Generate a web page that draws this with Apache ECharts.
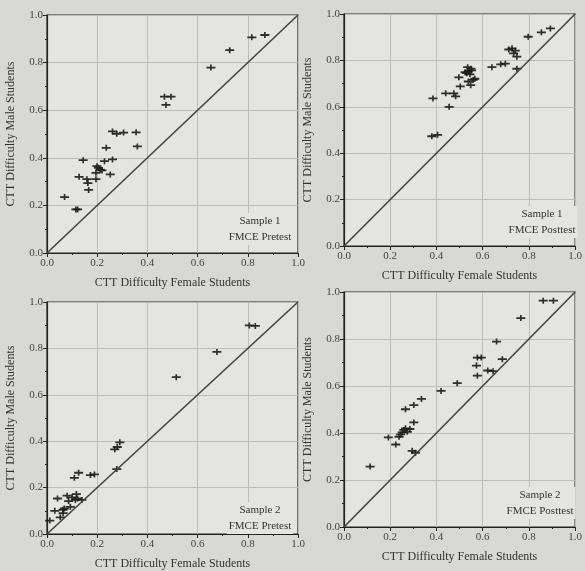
<!DOCTYPE html>
<html>
<head>
<meta charset="utf-8">
<script src="https://cdn.jsdelivr.net/npm/echarts@6/dist/echarts.min.js"></script>
<style>
  html, body { margin: 0; padding: 0; background: #d8d8d6; }
  #chart { width: 585px; height: 571px; }
</style>
</head>
<body>
<div id="chart"></div>
<script>
// tick labels shared by all panels
var tickValues = [0, 0.2, 0.4, 0.6, 0.8, 1.0];

// [female difficulty, male difficulty]
var sample1Pre = [
  [0.07, 0.235], [0.115, 0.183], [0.122, 0.183], [0.128, 0.32], [0.144, 0.39],
  [0.159, 0.31], [0.163, 0.294], [0.166, 0.265], [0.195, 0.31], [0.195, 0.337],
  [0.199, 0.365], [0.205, 0.358], [0.212, 0.35], [0.219, 0.347], [0.229, 0.386],
  [0.236, 0.442], [0.252, 0.33], [0.261, 0.393], [0.261, 0.511], [0.278, 0.501],
  [0.305, 0.506], [0.355, 0.507], [0.36, 0.448], [0.468, 0.657], [0.494, 0.657],
  [0.474, 0.622], [0.653, 0.779], [0.728, 0.852], [0.816, 0.906], [0.868, 0.916]
];
var sample1Post = [
  [0.385, 0.636], [0.38, 0.473], [0.405, 0.479], [0.44, 0.658], [0.455, 0.6],
  [0.475, 0.658], [0.483, 0.645], [0.497, 0.727], [0.503, 0.688], [0.524, 0.749],
  [0.531, 0.745], [0.535, 0.771], [0.538, 0.754], [0.545, 0.74], [0.538, 0.709],
  [0.548, 0.693], [0.552, 0.757], [0.559, 0.716], [0.566, 0.721], [0.549, 0.764],
  [0.64, 0.771], [0.678, 0.783], [0.698, 0.786], [0.748, 0.764], [0.713, 0.847],
  [0.727, 0.852], [0.741, 0.842], [0.734, 0.83], [0.748, 0.816], [0.797, 0.902],
  [0.854, 0.921], [0.893, 0.938]
];
var sample2Pre = [
  [0.011, 0.058], [0.031, 0.1], [0.042, 0.153], [0.053, 0.072], [0.064, 0.09],
  [0.064, 0.104], [0.069, 0.11], [0.08, 0.165], [0.086, 0.142], [0.093, 0.117],
  [0.1, 0.158], [0.109, 0.242], [0.113, 0.147], [0.117, 0.172], [0.122, 0.153],
  [0.126, 0.264], [0.139, 0.147], [0.173, 0.254], [0.189, 0.257], [0.27, 0.365],
  [0.28, 0.375], [0.29, 0.395], [0.278, 0.28], [0.515, 0.676], [0.677, 0.785],
  [0.806, 0.899], [0.83, 0.897]
];
var sample2Post = [
  [0.113, 0.257], [0.192, 0.381], [0.224, 0.351], [0.238, 0.384], [0.245, 0.394],
  [0.252, 0.403], [0.259, 0.413], [0.266, 0.42], [0.274, 0.405], [0.285, 0.417],
  [0.266, 0.501], [0.302, 0.519], [0.302, 0.445], [0.295, 0.324], [0.309, 0.316],
  [0.335, 0.545], [0.42, 0.579], [0.49, 0.612], [0.573, 0.687], [0.577, 0.721],
  [0.594, 0.721], [0.577, 0.644], [0.622, 0.666], [0.645, 0.663], [0.66, 0.789],
  [0.685, 0.714], [0.765, 0.889], [0.862, 0.963], [0.906, 0.963]
];
var panelLabels = [
  'Sample 1\nFMCE Pretest', 'Sample 1\nFMCE Posttest',
  'Sample 2\nFMCE Pretest', 'Sample 2\nFMCE Posttest'
];
var panelData = [sample1Pre, sample1Post, sample2Pre, sample2Post];
var diagonal = [[0, 0], [1, 1]];

var FONT = '"Liberation Serif", "DejaVu Serif", serif';
var plusSymbol = 'path://M0,3.5h16v3h-16z M6.5,0h3v10h-3z';

var grids = [
  {left: 47, top: 15, width: 251, height: 238},
  {left: 344, top: 14, width: 236, height: 232},
  {left: 47, top: 302, width: 251, height: 240},
  {left: 344, top: 292, width: 234, height: 235}
];

var option = {
  backgroundColor: '#d8d8d6',
  animation: false,
  grid: [], xAxis: [], yAxis: [], series: [], graphic: []
};

grids.forEach(function (g, i) {
  option.grid.push({
    left: g.left, top: g.top, width: g.width, height: g.height,
    show: true, backgroundColor: '#e4e4e2', borderColor: '#222', borderWidth: 1.2
  });
  var axisCommon = {
    gridIndex: i,
    type: 'value',
    min: 0, max: 1, interval: 0.2,
    axisLine: {show: true, onZero: false, lineStyle: {color: '#222', width: 1.2}},
    axisTick: {show: true, length: 4, lineStyle: {color: '#222'}},
    minorTick: {show: true, splitNumber: 2, length: 2, lineStyle: {color: '#222'}},
    splitLine: {show: true, lineStyle: {color: '#bdbdbb', width: 1}},
    axisLabel: {
      color: '#444', fontFamily: FONT, fontSize: 11,
      formatter: function (v) { return v.toFixed(1); }
    },
    nameLocation: 'middle',
    nameTextStyle: {color: '#333', fontFamily: FONT, fontSize: 12}
  };
  option.xAxis.push(Object.assign({}, axisCommon, {
    name: 'CTT Difficulty Female Students', nameGap: 24,
    axisLabel: Object.assign({}, axisCommon.axisLabel, {margin: 5})
  }));
  option.yAxis.push(Object.assign({}, axisCommon, {
    name: 'CTT Difficulty Male Students', nameGap: 30,
    axisLabel: Object.assign({}, axisCommon.axisLabel, {margin: 4})
  }));
  option.series.push({
    type: 'line',
    xAxisIndex: i, yAxisIndex: i,
    data: diagonal,
    symbol: 'none',
    lineStyle: {color: '#444', width: 1.6},
    silent: true
  });
  option.series.push({
    type: 'scatter',
    xAxisIndex: i, yAxisIndex: i,
    data: panelData[i],
    symbol: plusSymbol,
    symbolSize: [9, 6],
    itemStyle: {color: '#1a1a1a', opacity: 0.9}
  });
  option.graphic.push({
    type: 'text',
    x: g.left + g.width - 38,
    y: g.top + g.height - 40,
    z: 10,
    style: {
      text: panelLabels[i],
      font: '11px ' + FONT,
      fill: '#333',
      align: 'center',
      lineHeight: 16,
      backgroundColor: '#e4e4e2',
      padding: [0, 2]
    }
  });
});

var chart = echarts.init(document.getElementById('chart'));
chart.setOption(option);
</script>
</body>
</html>
